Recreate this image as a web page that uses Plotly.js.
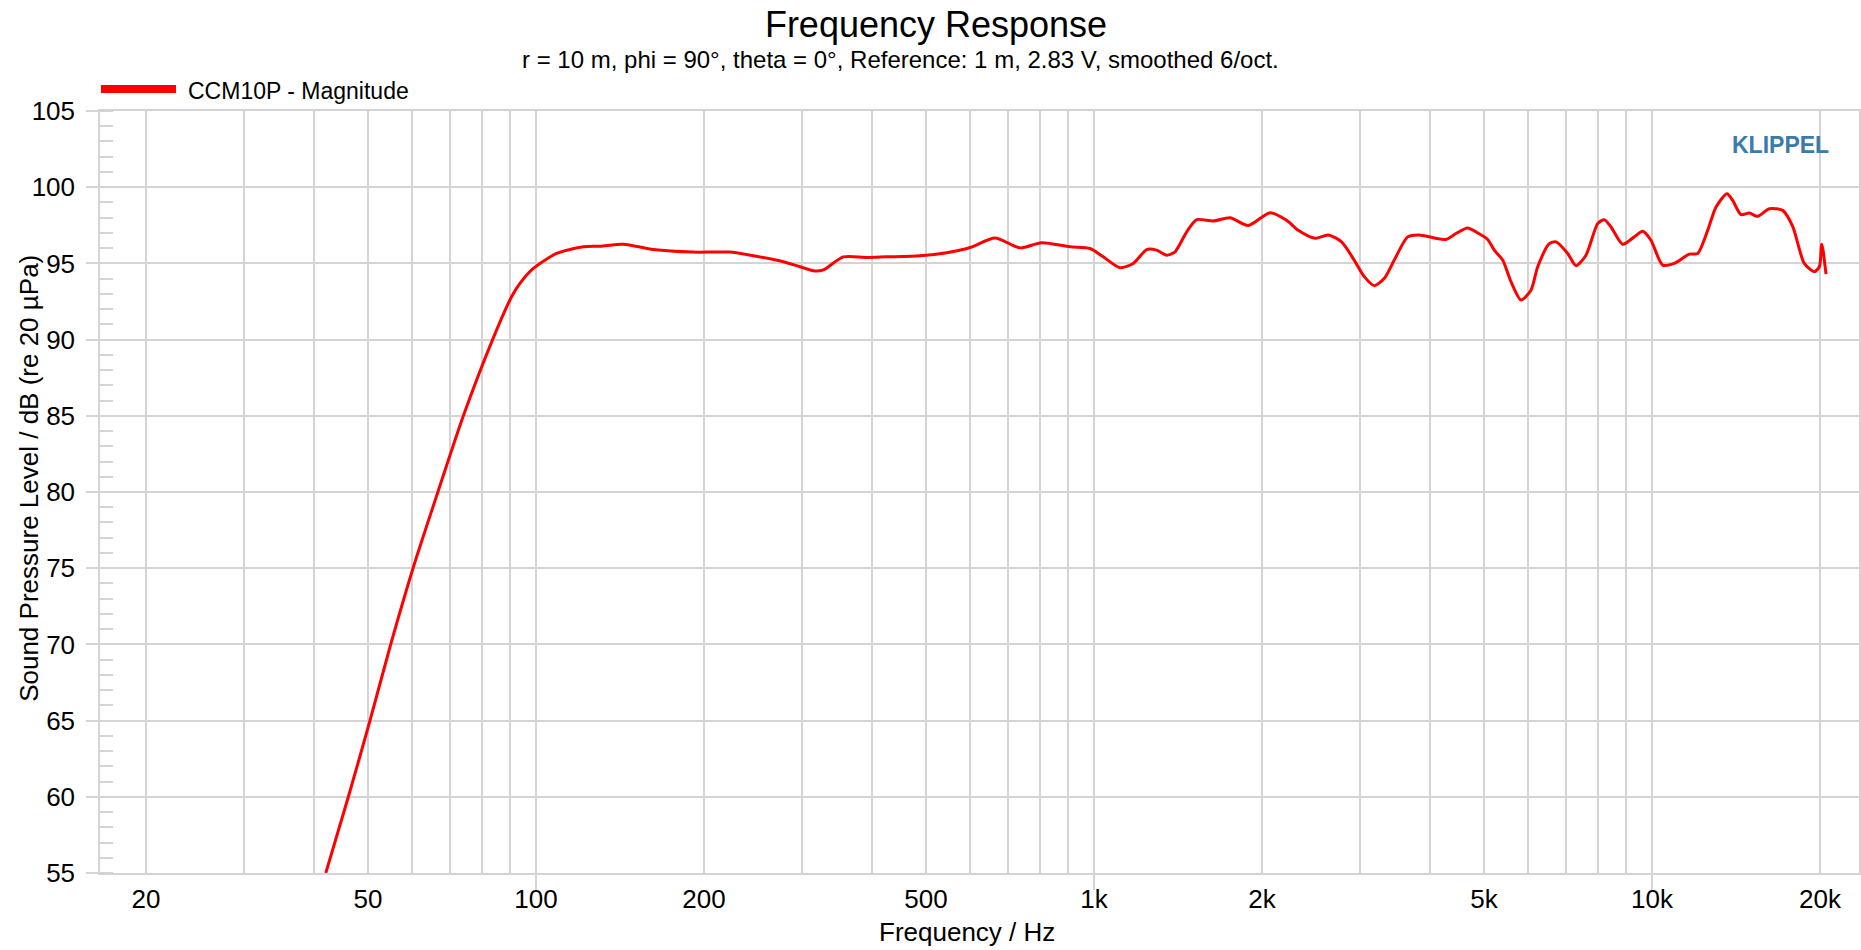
<!DOCTYPE html>
<html><head><meta charset="utf-8">
<script src="https://cdn.plot.ly/plotly-3.0.1.min.js"></script>
<style>html,body{margin:0;padding:0;background:#fff}#chart{width:1861px;height:950px}</style>
</head><body><div id="chart"></div>
<script>
// ---- data ----
const freqHz = [42.0,46.1,50.4,54.9,60.2,66.7,74.1,83.6,90.4,93.6,98.9,
  108.9,121.5,130.2,143.4,162.3,191.4,222.7,245.2,277.5,297.3,316.2,327.3,355.4,391.3,425.1,487.7,
  544.5,599.6,664.6,737,805.9,905.7,983.6,1039,1113,1176,1243,1295,1350,1397,1466,1528,1636,1753,1890,
  2068,2214,2323,2489,2630,2780,2928,3051,3180,3314,3453,3649,3828,4073,4274,4454,4673,4870,5076,5216,
  5400,5589,5826,6071,6240,6546,6730,7063,7309,7616,7992,8214,8444,8860,9296,9623,9958,10450,10965,
  11664,12073,12584,13024,13628,13951,14437,14941,15465,16231,17150,17871,18747,19541,19950,20150,20506];
const splDb = [55.0,60.0,65.0,70.0,75.0,80.0,85.0,90.0,92.81,93.69,94.67,
  95.65,96.09,96.13,96.26,95.91,95.74,95.74,95.5,95.11,94.78,94.5,94.57,95.43,95.39,95.43,95.5,
  95.7,96.04,96.67,96.02,96.35,96.09,95.98,95.43,94.72,95.0,95.91,95.87,95.54,95.76,97.07,97.87,97.78,98.0,97.48,
  98.33,97.83,97.17,96.65,96.87,96.4,95.2,94.13,93.54,94.02,95.22,96.74,96.87,96.67,96.57,96.96,97.33,97.0,96.57,95.87,
  95.22,93.8,92.6,93.26,94.78,96.3,96.41,95.65,94.85,95.54,97.61,97.87,97.39,96.26,96.74,97.11,96.52,94.89,95.0,
  95.61,95.65,97.17,98.7,99.57,99.13,98.2,98.3,98.09,98.59,98.48,97.43,95.0,94.46,94.78,96.26,94.3];
const seriesName = 'CCM10P - Magnitude';
const tickFreqs = [20,50,100,200,500,1000,2000,5000,10000,20000];
const tickLabels = ['20','50','100','200','500','1k','2k','5k','10k','20k'];
const minorFreqs = [30,40,60,70,80,90,300,400,600,700,800,900,3000,4000,6000,7000,8000,9000];
const decadeFreqs = [100,1000,10000];
const titleText = 'Frequency Response';
const subtitleText = 'r = 10 m, phi = 90°, theta = 0°, Reference: 1 m, 2.83 V, smoothed 6/oct.';
const xTitle = 'Frequency / Hz';
const yTitle = 'Sound Pressure Level / dB (re 20 µPa)';
const brand = 'KLIPPEL';

// ---- layout geometry (pixels) ----
const W = 1861, H = 950;
const L = 100, R = 1859, T = 111, B = 873.3;
const PW = R - L, PH = B - T;
const xp = px => (px - L) / PW;
const yp = py => (B - py) / PH;
const FONT = '"Liberation Sans", Arial, Helvetica, sans-serif';
const GRID = '#d4d4d4';

const traces = [
  {x: freqHz, y: splDb, type: 'scatter', mode: 'lines', name: seriesName,
   line: {color: '#ff0000', width: 3, shape: 'spline', smoothing: 0.7}, showlegend: false,
   hoverinfo: 'x+y'},
  {x: [], y: [], xaxis: 'x2', yaxis: 'y', type: 'scatter', showlegend: false, hoverinfo: 'skip'}
];

const xr = [1.2186, 4.3710];
const layout = {
  width: W, height: H,
  paper_bgcolor: '#ffffff', plot_bgcolor: '#ffffff',
  margin: {l: L, r: W - R, t: T, b: H - B, pad: 0},
  font: {family: FONT, color: '#000'},
  showlegend: false,
  title: {text: titleText, font: {size: 36, family: FONT, color: '#000'},
          xref: 'container', x: 936 / W, xanchor: 'center',
          yref: 'container', y: 1 - 24 / H, yanchor: 'middle'},
  xaxis: {
    type: 'log', range: xr, tickmode: 'array', tickvals: tickFreqs, ticktext: tickLabels,
    ticks: '', showgrid: true, gridcolor: GRID, gridwidth: 1.5,
    minor: {tickmode: 'array', tickvals: minorFreqs, showgrid: true, gridcolor: GRID, gridwidth: 1.5, ticks: ''},
    showline: true, linecolor: GRID, linewidth: 1.5, mirror: true, zeroline: false,
    tickfont: {size: 26, family: FONT, color: '#000'}, ticklabelstandoff: 2
  },
  xaxis2: {
    type: 'log', range: xr, overlaying: 'x', anchor: 'y', side: 'bottom',
    tickmode: 'array', tickvals: decadeFreqs, ticks: 'outside', ticklen: 16, tickwidth: 1.5,
    tickcolor: GRID, showticklabels: false, showgrid: false, zeroline: false, showline: false
  },
  yaxis: {
    range: [55, 105], tick0: 55, dtick: 5, ticks: 'outside', ticklen: 12, tickwidth: 1.5, tickcolor: GRID,
    showgrid: true, gridcolor: GRID, gridwidth: 1.5, zeroline: false,
    minor: {dtick: 1, tick0: 55, ticks: 'inside', ticklen: 13, tickwidth: 1.5, tickcolor: GRID, showgrid: false},
    showline: true, linecolor: GRID, linewidth: 1.5, mirror: true,
    tickfont: {size: 26, family: FONT, color: '#000'}, ticklabelstandoff: 6
  },
  shapes: [
    {type: 'line', xref: 'paper', yref: 'paper', x0: xp(101), x1: xp(176), y0: yp(89), y1: yp(89),
     line: {color: '#ff0000', width: 8}}
  ],
  annotations: [
    {text: subtitleText, xref: 'paper', yref: 'paper', x: xp(900), y: yp(59), xanchor: 'center', yanchor: 'middle',
     showarrow: false, font: {size: 24, family: FONT, color: '#000'}},
    {text: seriesName, xref: 'paper', yref: 'paper', x: xp(186), y: yp(91), xanchor: 'left', yanchor: 'middle',
     showarrow: false, font: {size: 23, family: FONT, color: '#000'}},
    {text: '<b>' + brand + '</b>', xref: 'paper', yref: 'paper', x: xp(1780), y: yp(145), xanchor: 'center', yanchor: 'middle',
     showarrow: false, font: {size: 23, family: FONT, color: '#3b7bab'}},
    {text: xTitle, xref: 'paper', yref: 'paper', x: xp(967), y: yp(932), xanchor: 'center', yanchor: 'middle',
     showarrow: false, font: {size: 26, family: FONT, color: '#000'}},
    {text: yTitle, xref: 'paper', yref: 'paper', x: xp(29), y: yp(479), xanchor: 'center', yanchor: 'middle',
     textangle: -90, showarrow: false, font: {size: 26, family: FONT, color: '#000'}}
  ]
};

Plotly.newPlot('chart', traces, layout, {displayModeBar: false, staticPlot: false});
</script>
</body></html>
